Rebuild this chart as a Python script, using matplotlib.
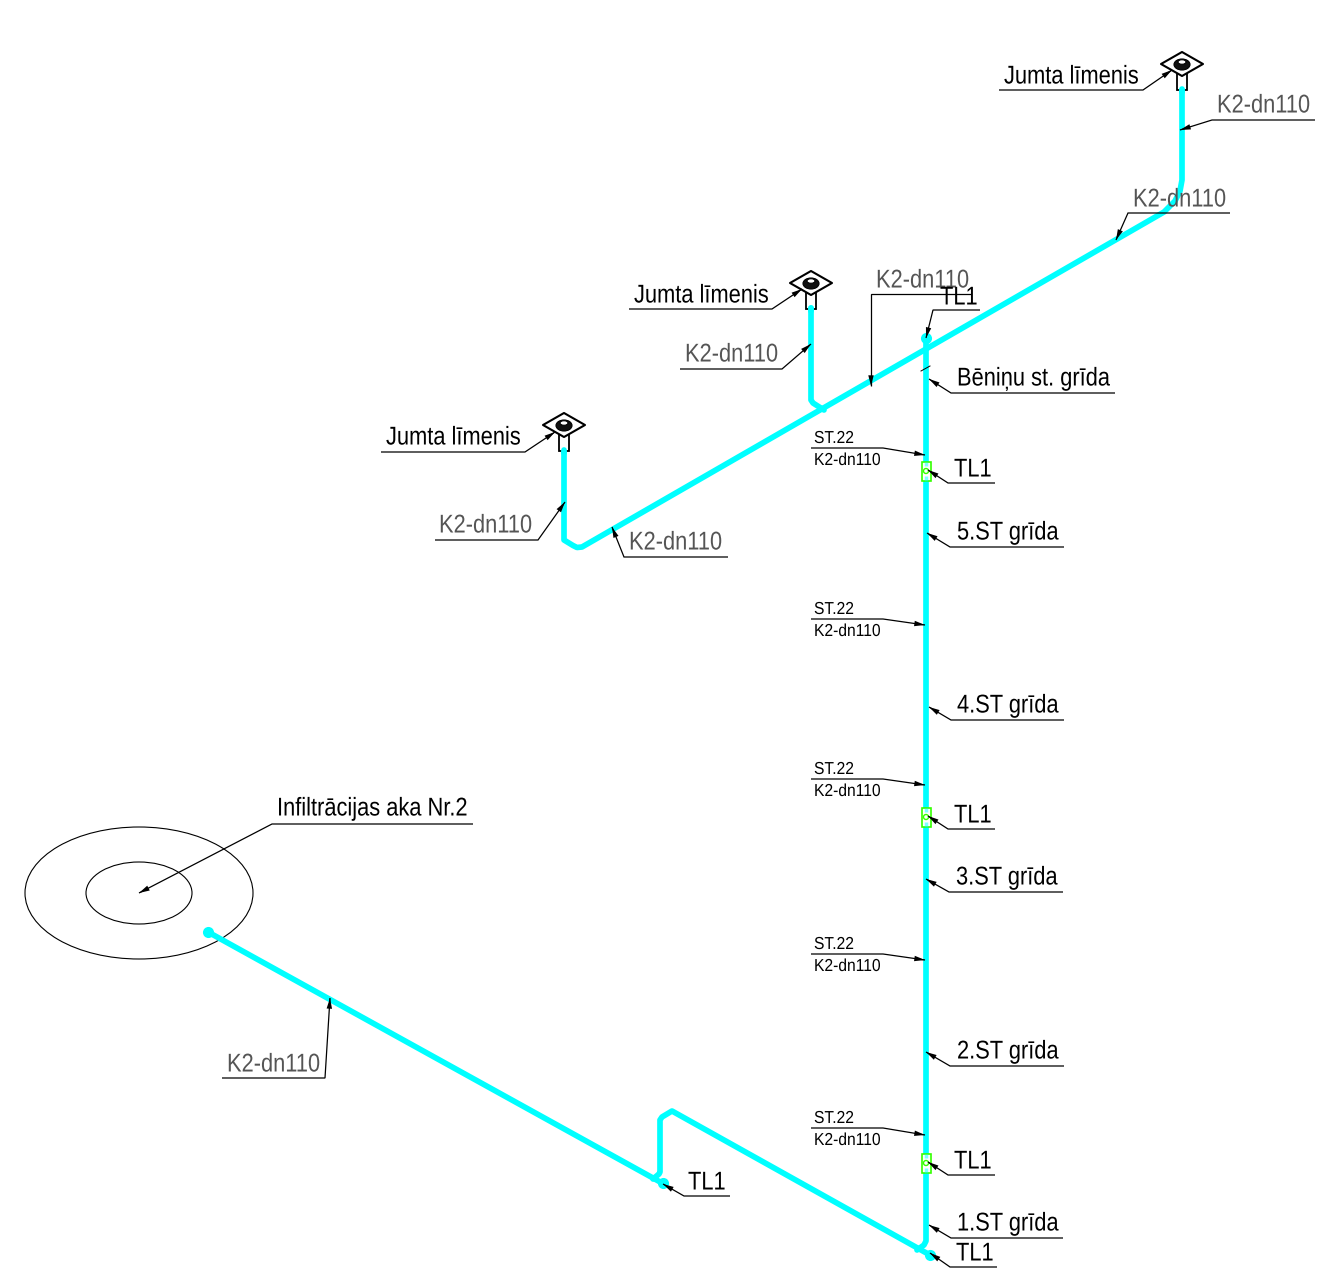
import matplotlib
matplotlib.use("Agg")
import matplotlib.pyplot as plt
from matplotlib.patches import Ellipse, Polygon, Rectangle, Circle
from matplotlib.patheffects import AbstractPathEffect
from matplotlib.transforms import Affine2D

plt.rcParams['font.family'] = ['Liberation Sans', 'DejaVu Sans']

CYAN = '#00FFFF'
GREEN = '#33FF00'
GREY = '#555555'
BLACK = '#000000'

# pipe runs (drawing coordinates)
pipe_main_x = [1182, 1182, 1180, 1175, 1164, 582, 577, 573, 564, 564]
pipe_main_y = [90, 180, 191, 201, 212, 547, 547.5, 545.5, 540, 452]
pipe_branch_x = [811, 811, 813, 824]
pipe_branch_y = [308, 400, 403, 410]
pipe_riser_x = [926, 926, 924, 917]
pipe_riser_y = [338, 1241, 1245, 1250]
pipe_bottom_x = [930, 672, 662, 660, 660, 659, 653]
pipe_bottom_y = [1255, 1111, 1117, 1120, 1172, 1174, 1179]
pipe_out_x = [662, 208]
pipe_out_y = [1183, 932]
pipe_end_x = [926, 930, 663, 208]
pipe_end_y = [338, 1255, 1183, 932]

# roof drains, well, inspection pieces
drain_x = [1182, 811, 564]
drain_y = [64, 283, 425]
well_center = (139, 893)
well_widths = [228, 106]
well_heights = [132, 62]
cleanout_x = 926
cleanout_y = [471, 817, 1163]

# labels: text, x, baseline y
label_text = ['Jumta līmenis', 'K2-dn110', 'K2-dn110', 'Jumta līmenis', 'K2-dn110',
              'K2-dn110', 'TL1', 'Bēniņu st. grīda', 'Jumta līmenis', 'K2-dn110', 'K2-dn110',
              'TL1', 'TL1', 'TL1', '5.ST grīda', '4.ST grīda', '3.ST grīda', '2.ST grīda',
              '1.ST grīda', 'TL1', 'TL1', 'K2-dn110', 'Infiltrācijas aka Nr.2']
label_x = [1004, 1217, 1133, 634, 685, 876, 940, 957, 386, 439, 629,
           954, 954, 954, 957, 957, 956, 957, 957, 956, 688, 227, 277]
label_y = [83.5, 112.5, 206.5, 302.5, 361.5, 287.5, 304.5, 385.5, 444.5, 532.5, 549.5,
           476.5, 822.5, 1168.5, 539.5, 712.5, 884.5, 1058.5, 1230.5, 1260.5, 1189.5, 1071.5, 815.5]
label_grey = ['K2-dn110']

# leaders: underline far end, knee, arrow tip (one per label)
leader_far_x = [999, 1315, 1230, 629, 680, 971, 980, 1115, 381, 435, 728,
                995, 995, 995, 1064, 1064, 1063, 1064, 1063, 997, 730, 222, 473]
leader_far_y = [90, 120, 213, 309, 369, 294, 310, 393, 452, 540, 557,
                483, 829, 1175, 547, 720, 892, 1066, 1238, 1267, 1196, 1078, 824]
leader_knee_x = [1143, 1212, 1128, 772, 782, 871, 933, 951, 525, 538, 624,
                 948, 948, 948, 950, 951, 949, 950, 951, 950, 684, 325, 272]
leader_knee_y = leader_far_y
leader_tip_x = [1172, 1180, 1116, 802, 811, 871, 926, 929, 555, 565, 612,
                928, 928, 928, 927, 929, 926, 926, 929, 930, 663, 330, 139]
leader_tip_y = [70, 130, 240, 289, 344, 386, 338, 379, 432, 502, 527,
                470, 816, 1162, 533, 707, 879, 1052, 1225, 1253, 1184, 998, 893]

# small pipe tags on the riser
tag_top = 'ST.22'
tag_bottom = 'K2-dn110'
tag_y = [448, 619, 779, 954, 1128]
tag_tip_y = [455, 625, 785, 960, 1135]
tag_left_x, tag_knee_x, tag_tip_x, tag_text_x = 811, 883, 925, 814


class Narrow(AbstractPathEffect):
    """Condense glyphs horizontally about the text's own origin."""

    def __init__(self, factor):
        super().__init__()
        self.factor = factor

    def draw_path(self, renderer, gc, tpath, affine, rgbFace=None):
        m = affine.get_matrix().copy()
        m[0, 0] *= self.factor
        renderer.draw_path(gc, tpath, Affine2D(m), rgbFace)


fig = plt.figure(figsize=(13.36, 12.71), dpi=100)
ax = fig.add_axes([0, 0, 1, 1])
ax.set_xlim(0, 1336)
ax.set_ylim(1271, 0)
ax.axis('off')

PIPE_LW = 4.1
for xs, ys in [(pipe_main_x, pipe_main_y), (pipe_branch_x, pipe_branch_y),
               (pipe_riser_x, pipe_riser_y), (pipe_bottom_x, pipe_bottom_y),
               (pipe_out_x, pipe_out_y)]:
    ax.plot(xs, ys, color=CYAN, lw=PIPE_LW, solid_capstyle='round', solid_joinstyle='round', zorder=2)
ax.plot(pipe_end_x, pipe_end_y, 'o', color=CYAN, ms=8, mew=0, zorder=2)

# break in the riser under the roof crossing
ax.plot([921, 930], [371, 366], color=BLACK, lw=0.7, zorder=4)

for w, h in zip(well_widths, well_heights):
    ax.add_patch(Ellipse(well_center, w, h, fill=False, ec=BLACK, lw=0.8, zorder=1))

for cx, cy in zip(drain_x, drain_y):
    ax.add_patch(Rectangle((cx - 5, cy + 8), 10, 18, fc='white', ec=BLACK, lw=1.3, zorder=1))
    ax.add_patch(Polygon([(cx - 21, cy), (cx, cy - 12), (cx + 21, cy), (cx, cy + 12)],
                         closed=True, fc='white', ec=BLACK, lw=1.5, joinstyle='round', zorder=3))
    ax.add_patch(Ellipse((cx, cy + 0.5), 16, 11, fc='#111111', ec=BLACK, lw=0.8, zorder=4))
    ax.add_patch(Ellipse((cx, cy - 2), 8, 4.5, fc='white', ec=BLACK, lw=0.8, zorder=5))
    ax.plot([cx, cx], [cy + 25, cy + 28], color=CYAN, lw=PIPE_LW, solid_capstyle='round', zorder=2)

for cy in cleanout_y:
    ax.add_patch(Rectangle((cleanout_x - 4, cy - 9), 9, 19, fc='white', ec=GREEN, lw=1.2, zorder=3))
    ax.plot([cleanout_x, cleanout_x], [cy - 9, cy - 5], color=CYAN, lw=2.5, zorder=4, solid_capstyle='butt', alpha=.5)
    ax.plot([cleanout_x, cleanout_x], [cy + 5, cy + 10], color=CYAN, lw=2.5, zorder=4, solid_capstyle='butt', alpha=.5)
    ax.add_patch(Circle((cleanout_x, cy), 2.5, fc='white', ec=GREEN, lw=1, zorder=5))


def leader(x0, y0, x1, y1, x2, y2):
    ax.plot([x0, x1, x2], [y0, y1, y2], color=BLACK, lw=0.9, zorder=6,
            solid_joinstyle='miter', solid_capstyle='butt')
    ax.annotate('', xy=(x2, y2), xytext=(x1, y1),
                arrowprops=dict(arrowstyle='-|>,head_length=0.55,head_width=0.14', color=BLACK, lw=0,
                                shrinkA=0, shrinkB=0, mutation_scale=14), zorder=7)


big = [Narrow(0.85)]
small = [Narrow(0.90)]

for t, x, y, fx, fy, kx, ky, tx, ty in zip(label_text, label_x, label_y, leader_far_x, leader_far_y,
                                           leader_knee_x, leader_knee_y, leader_tip_x, leader_tip_y):
    c = GREY if t in label_grey else BLACK
    ax.text(x, y, t, color=c, fontsize=18.5, ha='left', va='baseline', zorder=8, path_effects=big)
    leader(fx, fy, kx, ky, tx, ty)

for y, ty in zip(tag_y, tag_tip_y):
    ax.text(tag_text_x, y - 5, tag_top, color=BLACK, fontsize=12.5, ha='left', va='baseline', zorder=8, path_effects=small)
    ax.text(tag_text_x, y + 17, tag_bottom, color=BLACK, fontsize=12.5, ha='left', va='baseline', zorder=8, path_effects=small)
    leader(tag_left_x, y, tag_knee_x, y, tag_tip_x, ty)

fig.savefig('out.png', dpi=100, facecolor='white')
